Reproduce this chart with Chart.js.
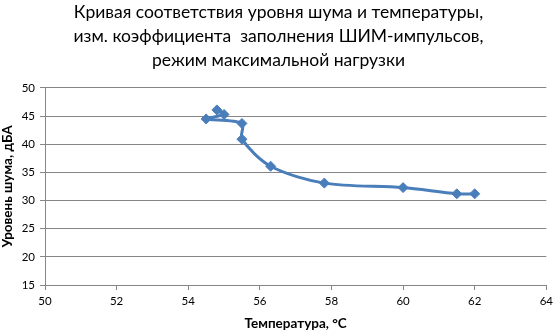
<!DOCTYPE html>
<html>
<head>
<meta charset="utf-8">
<script src="https://cdn.jsdelivr.net/npm/chart.js@4"></script>
<style>
html,body{margin:0;padding:0;background:#fff;}
#wrap{width:557px;height:332px;}
</style>
</head>
<body>
<div id="wrap"><canvas id="c" width="557" height="332"></canvas></div>
<script>
const titleLines = ["Кривая соответствия уровня шума и температуры,", "изм. коэффициента  заполнения ШИМ-импульсов,", "режим максимальной нагрузки"];
const xTitle = "Температура, °C";
const yTitle = "Уровень шума, дБА";
const temperature = [54.8, 55.0, 54.5, 55.5, 55.5, 56.3, 57.8, 60.0, 61.5, 62.0];
const noise = [46.1, 45.3, 44.5, 43.7, 40.9, 36.1, 33.1, 32.3, 31.2, 31.2];
const xRange = [50, 64, 2];
const yRange = [15, 50, 5];

const points = temperature.map((t, i) => ({x: t, y: noise[i]}));
const blue = '#4a7ebb';
const gridGray = '#868686';
const font = "Lato, 'Liberation Sans', sans-serif";

new Chart(document.getElementById('c'), {
  type: 'scatter',
  data: {
    datasets: [{
      data: points,
      showLine: true,
      tension: 0.3,
      borderColor: blue,
      backgroundColor: blue,
      borderWidth: 3,
      pointStyle: 'rectRot',
      pointRadius: 5,
      pointHoverRadius: 5,
      pointBorderWidth: 1,
      pointBorderColor: blue
    }]
  },
  options: {
    responsive: false,
    animation: false,
    devicePixelRatio: 1,
    layout: {padding: {left: 0, right: 0, top: 0, bottom: 0}},
    plugins: {
      legend: {display: false},
      tooltip: {enabled: false},
      title: {
        display: true,
        text: titleLines,
        color: '#000',
        font: {family: font, size: 17.5, weight: 'normal', lineHeight: 1.371},
        padding: {top: 0, bottom: 16}
      }
    },
    scales: {
      x: {
        type: 'linear',
        min: xRange[0], max: xRange[1],
        ticks: {stepSize: xRange[2], color: '#000', font: {family: font, size: 11.5}, padding: 4},
        grid: {display: true, drawOnChartArea: false, drawTicks: true, tickLength: 5, color: gridGray},
        border: {color: gridGray, width: 1},
        title: {display: true, text: xTitle, color: '#000', font: {family: font, size: 13.5, weight: 'bold'}, padding: {top: 5, bottom: 0}},
        afterFit: s => { s.height = 47; }
      },
      y: {
        type: 'linear',
        min: yRange[0], max: yRange[1],
        ticks: {stepSize: yRange[2], color: '#000', font: {family: font, size: 11.5}, padding: 5},
        grid: {color: gridGray, tickLength: 5, drawTicks: true},
        border: {color: gridGray, width: 1},
        title: {display: true, text: yTitle, color: '#000', font: {family: font, size: 13.5, weight: 'bold'}, padding: {top: 0, bottom: 1}},
        afterFit: s => { s.width = 45; }
      }
    }
  }
});
</script>
</body>
</html>
